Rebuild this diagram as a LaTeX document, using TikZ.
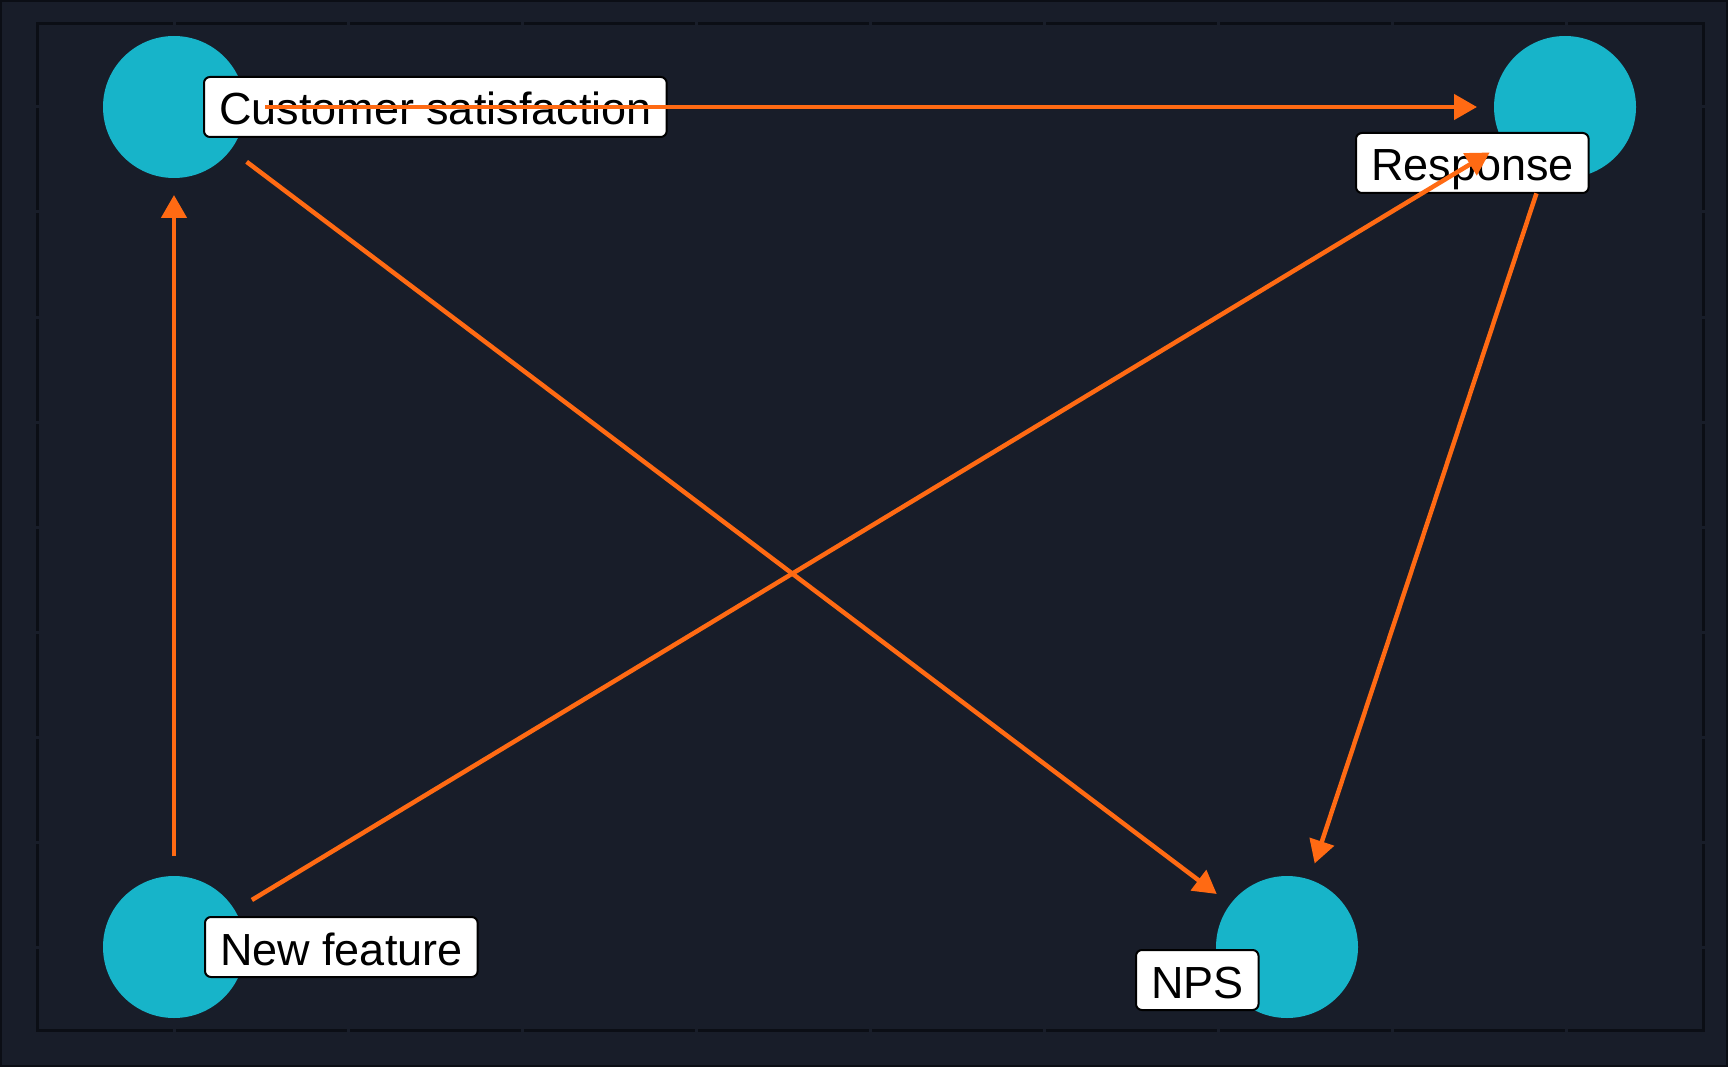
\documentclass[tikz,border=0pt]{standalone}
\usepackage{fontspec}
\setmainfont{Liberation Sans}
\usetikzlibrary{arrows.meta}
\definecolor{bg}{HTML}{181D29}
\definecolor{framecol}{HTML}{0B0E15}
\definecolor{nodecol}{HTML}{17B4C9}
\definecolor{edgecol}{HTML}{FF6A13}
\begin{document}
\begin{tikzpicture}[x=1pt,y=-1pt,
  vnode/.style={circle, fill=nodecol, minimum size=142pt, inner sep=0pt, outer sep=0pt},
  vlabel/.style={draw=black, line width=2pt, fill=white, rounded corners=6pt,
    font=\fontsize{45}{54}\selectfont, text=black, inner xsep=15pt, inner ysep=6pt,
    text height=42pt, text depth=6pt, anchor=west},
  conn/.style={draw=edgecol, line width=4.5pt, -{Triangle[length=23pt,width=25pt]},
    shorten <=20pt, shorten >=17pt}]
% background and frame
\fill[bg] (0,0) rectangle (1728,1067);
\useasboundingbox (0,0) rectangle (1728,1067);
\draw[framecol, line width=2pt] (1,1) rectangle (1727,1066);
\draw[framecol, line width=3pt] (37,24) rectangle (1703,1030);
\foreach \x in {174,348,522,696,870,1044,1218,1392,1566} {
  \fill[bg] (\x-1.5,20) rectangle (\x+1.5,28);
  \fill[bg] (\x-1.5,1026) rectangle (\x+1.5,1034);
}
\foreach \y in {107,212,317,422,527,632,737,842,947} {
  \fill[bg] (33,\y-1.5) rectangle (41,\y+1.5);
  \fill[bg] (1699,\y-1.5) rectangle (1707,\y+1.5);
}
% vertices
\node[vnode] (cs) at (174,107) {};
\node[vnode] (resp) at (1565,107) {};
\node[vnode] (nf) at (174,947) {};
\node[vnode] (nps) at (1287,947) {};
% labels
\node[vlabel] (cslab) at (203,107) {Customer satisfaction};
\node[vlabel] (resplab) at (1355,163) {Response};
\node[vlabel] (nflab) at (204,947) {New feature};
\node[vlabel] (npslab) at (1135,980) {NPS};
% edges
\draw[conn] (cs) -- (resp);
\draw[conn] (cs) -- (nps);
\draw[conn] (nf) -- (cs);
\draw[conn] (nf) -- (resp);
\draw[conn] (resp) -- (nps);
\end{tikzpicture}
\end{document}
